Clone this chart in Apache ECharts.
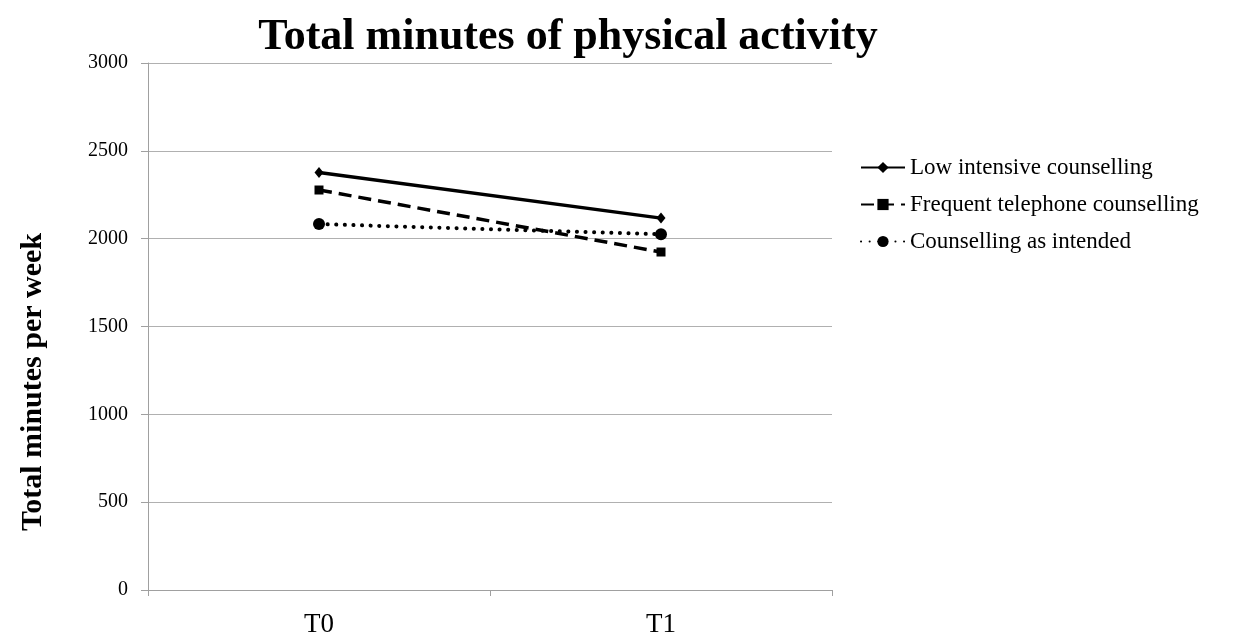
<!DOCTYPE html>
<html>
<head>
<meta charset="utf-8">
<script src="https://cdn.jsdelivr.net/npm/echarts@6/dist/echarts.min.js"></script>
<style>
html,body{margin:0;padding:0;background:#fff;}
#main{width:1247px;height:639px;}
</style>
</head>
<body>
<div id="main"></div>
<script>
const categories = ['T0', 'T1'];
const lowIntensive = [2377, 2117];
const frequentTelephone = [2277, 1924];
const asIntended = [2083, 2025];
const seriesNames = ['Low intensive counselling', 'Frequent telephone counselling', 'Counselling as intended'];
const yTicks = {min: 0, max: 3000, interval: 500};

const FONT = "'Liberation Serif', 'Times New Roman', serif";
const chart = echarts.init(document.getElementById('main'));
chart.setOption({
  animation: false,
  backgroundColor: '#fff',
  title: {
    text: 'Total minutes of physical activity',
    left: 563, textAlign: 'center', top: 11,
    textStyle: {fontFamily: FONT, fontSize: 44, fontWeight: 'bold', color: '#000'}
  },
  grid: {left: 148, right: 415, top: 63, bottom: 49, containLabel: false},
  legend: {
    orient: 'vertical', left: 855, top: 151, itemWidth: 44, itemHeight: 14, itemGap: 14,
    textStyle: {fontFamily: FONT, fontSize: 23, color: '#000'},
    data: seriesNames
  },
  graphic: [{
    type: 'text', x: 33, y: 382, rotation: Math.PI / 2,
    style: {text: 'Total minutes per week', fontFamily: FONT, fontSize: 30, fontWeight: 'bold', fill: '#000', align: 'center', verticalAlign: 'middle'}
  }],
  xAxis: {
    type: 'category', data: categories, boundaryGap: true,
    axisLine: {lineStyle: {color: '#a0a0a0', width: 1}},
    axisTick: {show: true, length: 6, lineStyle: {color: '#a0a0a0'}},
    axisLabel: {fontFamily: FONT, fontSize: 27, color: '#000', margin: 21}
  },
  yAxis: {
    type: 'value', min: yTicks.min, max: yTicks.max, interval: yTicks.interval,
    axisLine: {show: true, lineStyle: {color: '#a0a0a0', width: 1}},
    axisTick: {show: true, length: 7, lineStyle: {color: '#a0a0a0'}},
    axisLabel: {fontFamily: FONT, fontSize: 20, color: '#000', margin: 20, formatter: v => String(v)},
    splitLine: {lineStyle: {color: '#b0b0b0', width: 1}}
  },
  series: [
    {name: seriesNames[0], type: 'line', data: lowIntensive, symbol: 'diamond', symbolSize: [9, 11],
     lineStyle: {color: '#000', width: 3.5, type: 'solid'}, itemStyle: {color: '#000'}},
    {name: seriesNames[1], type: 'line', data: frequentTelephone, symbol: 'rect', symbolSize: 9,
     lineStyle: {color: '#000', width: 3.5, type: [13, 7]}, itemStyle: {color: '#000'}},
    {name: seriesNames[2], type: 'line', data: asIntended, symbol: 'circle', symbolSize: 12,
     lineStyle: {color: '#000', width: 4, type: [0.1, 8.5], cap: 'round'}, itemStyle: {color: '#000'}}
  ]
});
</script>
</body>
</html>
